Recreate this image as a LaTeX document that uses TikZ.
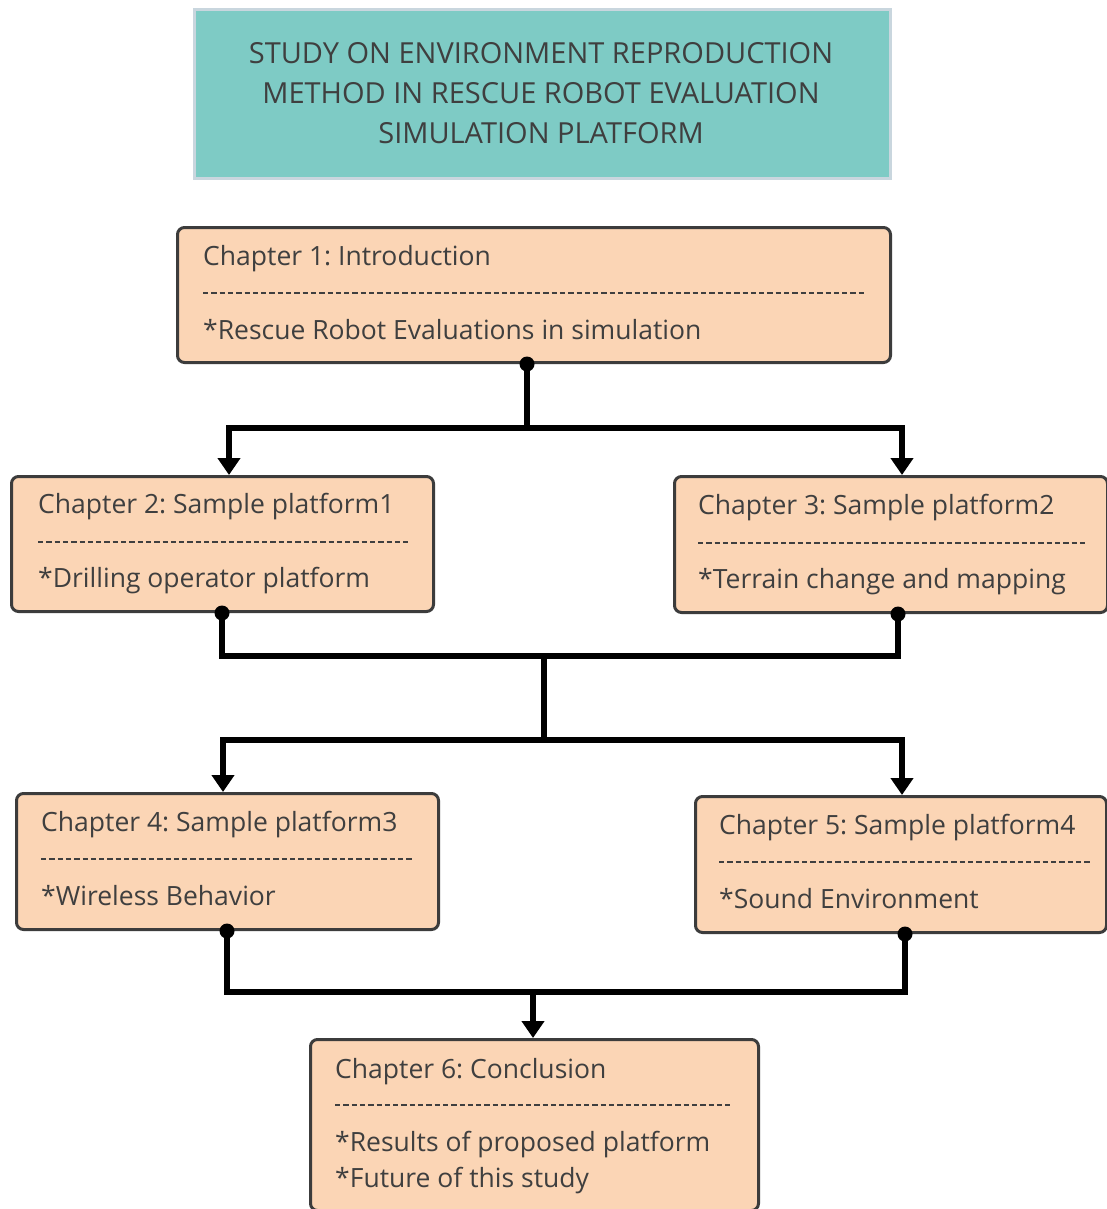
\documentclass[tikz,border=0pt]{standalone}
\usepackage{fontspec}
\setmainfont{Open Sans}
\usetikzlibrary{arrows.meta,calc}
\frenchspacing

\definecolor{titlefill}{HTML}{7ECBC5}
\definecolor{titleframe}{HTML}{C9D6DE}
\definecolor{peach}{HTML}{FBD5B5}
\definecolor{boxframe}{HTML}{3C3C3C}
\definecolor{ink}{HTML}{3F3F3F}

\tikzset{
  titlebox/.style={draw=titleframe, line width=3pt, fill=titlefill,
    anchor=north west, inner sep=0pt},
  titletxt/.style={anchor=base, inner sep=0pt, text=ink,
    font=\fontsize{29}{34}\selectfont},
  chbox/.style={draw=boxframe, line width=3pt, fill=peach,
    rounded corners=7pt, anchor=north west, inner sep=0pt},
  chtxt/.style={anchor=base west, inner sep=0pt, text=ink,
    font=\fontsize{26.5}{32}\selectfont},
  sepline/.style={draw=ink, line width=2.2pt, dash pattern=on 5.3pt off 3pt},
  wire/.style={draw=black, line width=5.5pt, line join=miter},
  arrowwire/.style={wire, -{Triangle[width=22pt,length=17pt]}},
  joint/.style={fill=black}
}

\begin{document}
\begin{tikzpicture}[x=1pt,y=-1pt]
\useasboundingbox (0,0) rectangle (1107,1209);
\clip (0,0) rectangle (1107,1209);
\fill[white] (0,0) rectangle (1107,1209);

% title banner
\node[titlebox, minimum width=696pt, minimum height=169pt] (title) at (193,8) {};
\node[titletxt] (t1) at ($(title.north west)+(348,56)$) {STUDY ON ENVIRONMENT REPRODUCTION};
\node[titletxt] (t2) at ($(title.north west)+(348,96)$) {METHOD IN RESCUE ROBOT EVALUATION};
\node[titletxt] (t3) at ($(title.north west)+(348,136)$) {SIMULATION PLATFORM};

% chapter boxes
\node[chbox, minimum width=713pt, minimum height=135pt] (c1) at (176,226) {};
\node[chbox, minimum width=422pt, minimum height=135pt] (c2) at (10,475) {};
\node[chbox, minimum width=433pt, minimum height=136pt] (c3) at (673,475) {};
\node[chbox, minimum width=422pt, minimum height=136pt] (c4) at (15,792) {};
\node[chbox, minimum width=411pt, minimum height=136pt] (c5) at (694,795) {};
\node[chbox, minimum width=448pt, minimum height=171pt] (c6) at (309,1038) {};

% box texts and separators
\node[chtxt] (c1h) at ($(c1.north west)+(27,39)$) {Chapter 1: Introduction};
\draw[sepline] ($(c1.north west)+(27,67)$) -- ($(c1.north east)+(-27,67)$);
\node[chtxt] (c1b) at ($(c1.north west)+(27,113)$) {*Rescue Robot Evaluations in simulation};

\node[chtxt] (c2h) at ($(c2.north west)+(28,38)$) {Chapter 2: Sample platform1};
\draw[sepline] ($(c2.north west)+(28,67)$) -- ($(c2.north east)+(-27,67)$);
\node[chtxt] (c2b) at ($(c2.north west)+(28,112)$) {*Drilling operator platform};

\node[chtxt] (c3h) at ($(c3.north west)+(25,39)$) {Chapter 3: Sample platform2};
\draw[sepline] ($(c3.north west)+(25,68)$) -- ($(c3.north east)+(-22,68)$);
\node[chtxt] (c3b) at ($(c3.north west)+(25,113)$) {*Terrain change and mapping};

\node[chtxt] (c4h) at ($(c4.north west)+(26,39)$) {Chapter 4: Sample platform3};
\draw[sepline] ($(c4.north west)+(26,67)$) -- ($(c4.north east)+(-27,67)$);
\node[chtxt] (c4b) at ($(c4.north west)+(26,113)$) {*Wireless Behavior};

\node[chtxt] (c5h) at ($(c5.north west)+(25,39)$) {Chapter 5: Sample platform4};
\draw[sepline] ($(c5.north west)+(25,67)$) -- ($(c5.north east)+(-17,67)$);
\node[chtxt] (c5b) at ($(c5.north west)+(25,113)$) {*Sound Environment};

\node[chtxt] (c6h) at ($(c6.north west)+(26,40)$) {Chapter 6: Conclusion};
\draw[sepline] ($(c6.north west)+(26,67)$) -- ($(c6.north east)+(-27,67)$);
\node[chtxt] (c6b) at ($(c6.north west)+(26,113)$) {*Results of proposed platform};
\node[chtxt] (c6c) at ($(c6.north west)+(26,149)$) {*Future of this study};

% connector end points on the box edges
\path (c1.south west) ++(351,0) coordinate (c1o);
\path (c2.north west) ++(219,0) coordinate (c2i);
\path (c3.north west) ++(229,0) coordinate (c3i);
\path (c2.south west) ++(212,0) coordinate (c2o);
\path (c3.south west) ++(225,0) coordinate (c3o);
\path (c4.north west) ++(208,0) coordinate (c4i);
\path (c5.north west) ++(208,0) coordinate (c5i);
\path (c4.south west) ++(212,0) coordinate (c4o);
\path (c5.south west) ++(211,0) coordinate (c5o);
\path (c6.north west) ++(224,0) coordinate (c6i);

% bus junctions
\coordinate (bus1) at (527,428);
\coordinate (bus2) at (544,656);
\coordinate (bus3) at (544,740);
\coordinate (bus4) at (533,992);

% chapter 1 -> chapters 2 and 3
\draw[wire] (c1o) -- (bus1);
\draw[arrowwire] (bus1) -| (c2i);
\draw[arrowwire] (bus1) -| (c3i);
\fill[joint] (c1o) circle (7.5);

% chapters 2 and 3 -> chapters 4 and 5
\draw[wire] (c2o) -- (c2o |- bus2) -- (c3o |- bus2) -- (c3o);
\draw[wire] (bus2) -- (bus3);
\draw[arrowwire] (bus3) -| (c4i);
\draw[arrowwire] (bus3) -| (c5i);
\fill[joint] (c2o) circle (7.5);
\fill[joint] (c3o) circle (7.5);

% chapters 4 and 5 -> chapter 6
\draw[wire] (c4o) -- (c4o |- bus4) -- (c5o |- bus4) -- (c5o);
\draw[arrowwire] (bus4) -- (c6i);
\fill[joint] (c4o) circle (7.5);
\fill[joint] (c5o) circle (7.5);
\end{tikzpicture}
\end{document}
